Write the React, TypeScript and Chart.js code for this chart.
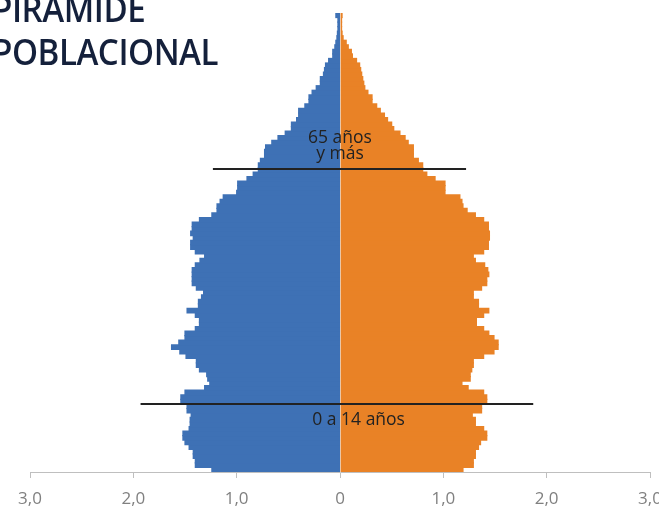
import React, { useEffect, useRef } from "react";
import { Chart, registerables } from "chart.js";

Chart.register(...registerables);

const ages: string[] = Array.from({ length: 101 }, (_, i) => (i === 100 ? "100+" : String(i)));

// Población (%) por edad simple, 0 a 100+
const hombres: number[] = [
  1.24, 1.4, 1.4, 1.42, 1.42, 1.46, 1.5, 1.52, 1.52, 1.46,
  1.45, 1.45, 1.44, 1.48, 1.48, 1.54, 1.54, 1.5, 1.31, 1.26,
  1.28, 1.29, 1.36, 1.39, 1.39, 1.49, 1.55, 1.63, 1.56, 1.5,
  1.5, 1.4, 1.36, 1.36, 1.4, 1.48, 1.37, 1.37, 1.34, 1.32,
  1.39, 1.43, 1.43, 1.43, 1.43, 1.4, 1.355, 1.31, 1.4, 1.445,
  1.445, 1.42, 1.445, 1.43, 1.43, 1.36, 1.24, 1.19, 1.19, 1.16,
  1.13, 1.0, 0.99, 0.99, 0.9, 0.84, 0.79, 0.79, 0.77, 0.73,
  0.73, 0.72, 0.66, 0.6, 0.53, 0.47, 0.47, 0.42, 0.4, 0.4,
  0.34, 0.3, 0.3, 0.27, 0.23, 0.19, 0.19, 0.16, 0.15, 0.14,
  0.11, 0.07, 0.07, 0.05, 0.04, 0.03, 0.025, 0.02, 0.02, 0.02,
  0.04,
];

const mujeres: number[] = [
  1.19, 1.29, 1.29, 1.31, 1.31, 1.34, 1.36, 1.42, 1.42, 1.39,
  1.31, 1.31, 1.28, 1.37, 1.37, 1.42, 1.42, 1.39, 1.24, 1.18,
  1.26, 1.26, 1.275, 1.29, 1.29, 1.39, 1.49, 1.53, 1.53, 1.49,
  1.44, 1.39, 1.32, 1.32, 1.39, 1.44, 1.34, 1.34, 1.29, 1.29,
  1.37, 1.42, 1.42, 1.44, 1.43, 1.4, 1.31, 1.29, 1.39, 1.436,
  1.436, 1.446, 1.446, 1.436, 1.436, 1.39, 1.31, 1.23, 1.19, 1.18,
  1.16, 1.016, 1.016, 1.016, 0.92, 0.84, 0.8, 0.8, 0.758, 0.71,
  0.71, 0.71, 0.66, 0.63, 0.58, 0.52, 0.5, 0.46, 0.43, 0.39,
  0.355, 0.31, 0.31, 0.27, 0.24, 0.23, 0.22, 0.21, 0.2, 0.19,
  0.16, 0.12, 0.11, 0.08, 0.06, 0.03, 0.02, 0.015, 0.015, 0.015,
  0.02,
];

const xTicks: number[] = [-3, -2, -1, 0, 1, 2, 3];

// Divisiones de grupos (posición en índice de edad) y su extensión en x
const lineaMayores = { at: 66.2, from: -1.23, to: 1.22 };
const lineaJovenes = { at: 14.46, from: -1.93, to: 1.87 };
const textoMayores = ["65 años", "y más"];
const textoJovenes = "0 a 14 años";

const BLUE = "#3E71B5";
const ORANGE = "#E98226";

export default function App() {
  const ref = useRef<HTMLCanvasElement | null>(null);

  useEffect(() => {
    document.body.style.margin = "0";
    const canvas = ref.current;
    if (!canvas) return;

    const annotations = {
      id: "annotations",
      afterDatasetsDraw(chart: any) {
        const { ctx } = chart;
        const x = chart.scales.x;
        const y = chart.scales.y;
        ctx.save();
        // línea clara en el centro
        ctx.strokeStyle = "rgba(255,255,255,0.55)";
        ctx.lineWidth = 1;
        const x0 = Math.round(x.getPixelForValue(0)) + 0.5;
        ctx.beginPath();
        ctx.moveTo(x0, chart.chartArea.top);
        ctx.lineTo(x0, chart.chartArea.bottom);
        ctx.stroke();

        ctx.strokeStyle = "#222222";
        ctx.lineWidth = 2;
        for (const l of [lineaMayores, lineaJovenes]) {
          const py = y.getPixelForValue(l.at);
          ctx.beginPath();
          ctx.moveTo(x.getPixelForValue(l.from), py);
          ctx.lineTo(x.getPixelForValue(l.to), py);
          ctx.stroke();
        }

        ctx.fillStyle = "#222222";
        ctx.font = '500 17.5px "Open Sans"';
        ctx.textAlign = "center";
        ctx.textBaseline = "middle";
        const cx = x.getPixelForValue(0);
        const yM = y.getPixelForValue(lineaMayores.at);
        ctx.fillText(textoMayores[0], cx, yM - 31);
        ctx.fillText(textoMayores[1], cx, yM - 15);
        const yJ = y.getPixelForValue(lineaJovenes.at);
        ctx.fillText(textoJovenes, x.getPixelForValue(0.18), yJ + 16);
        ctx.restore();
      },
    };

    const chart = new Chart(canvas, {
      type: "bar",
      data: {
        labels: ages,
        datasets: [
          {
            label: "Hombres",
            data: hombres.map((v) => -v),
            backgroundColor: BLUE,
            borderWidth: 0,
            inflateAmount: 0.6,
            barPercentage: 1,
            categoryPercentage: 1,
          },
          {
            label: "Mujeres",
            data: mujeres,
            backgroundColor: ORANGE,
            borderWidth: 0,
            inflateAmount: 0.6,
            barPercentage: 1,
            categoryPercentage: 1,
          },
        ],
      },
      options: {
        indexAxis: "y",
        animation: false,
        responsive: false,
        maintainAspectRatio: false,
        layout: { padding: { left: 30, right: 9, top: 13, bottom: 0 } },
        plugins: {
          legend: { display: false },
          tooltip: { enabled: false },
          title: { display: false },
        },
        scales: {
          x: {
            type: "linear",
            min: -3,
            max: 3,
            stacked: true,
            afterBuildTicks: (s: any) => {
              s.ticks = xTicks.map((v) => ({ value: v }));
            },
            afterFit: (s: any) => {
              s.paddingLeft = 0;
              s.paddingRight = 0;
              s.height = 34;
            },
            ticks: {
              color: "#808080",
              font: { family: "Open Sans", size: 17 },
              padding: 11,
              maxRotation: 0,
              autoSkip: false,
              callback: (v: any) =>
                v === 0 ? "0" : Math.abs(Number(v)).toFixed(1).replace(".", ","),
            },
            grid: {
              drawOnChartArea: false,
              drawTicks: true,
              tickLength: 6,
              color: "#bfbfbf",
              lineWidth: 1,
            },
            border: { display: true, color: "#bfbfbf", width: 1 },
          },
          y: {
            type: "category",
            reverse: true,
            stacked: true,
            display: false,
            offset: true,
          },
        },
      },
      plugins: [annotations],
    });
    return () => chart.destroy();
  }, []);

  return (
    <div
      style={{
        position: "absolute",
        left: 0,
        top: 0,
        width: 659,
        height: 506,
        overflow: "hidden",
        background: "#ffffff",
      }}
    >
      <canvas ref={ref} width={659} height={506} style={{ position: "absolute", left: 0, top: 0 }} />
      <div
        style={{
          position: "absolute",
          left: -8,
          top: -13.5,
          fontFamily: '"Open Sans", sans-serif',
          fontSize: 36,
          lineHeight: "43px",
          fontWeight: 600,
          color: "#14203b",
          whiteSpace: "nowrap",
          transform: "scaleX(0.92)",
          transformOrigin: "left top",
          letterSpacing: "-0.5px",
        }}
      >
        <div>PIRAMIDE</div>
        <div>POBLACIONAL</div>
      </div>
    </div>
  );
}
